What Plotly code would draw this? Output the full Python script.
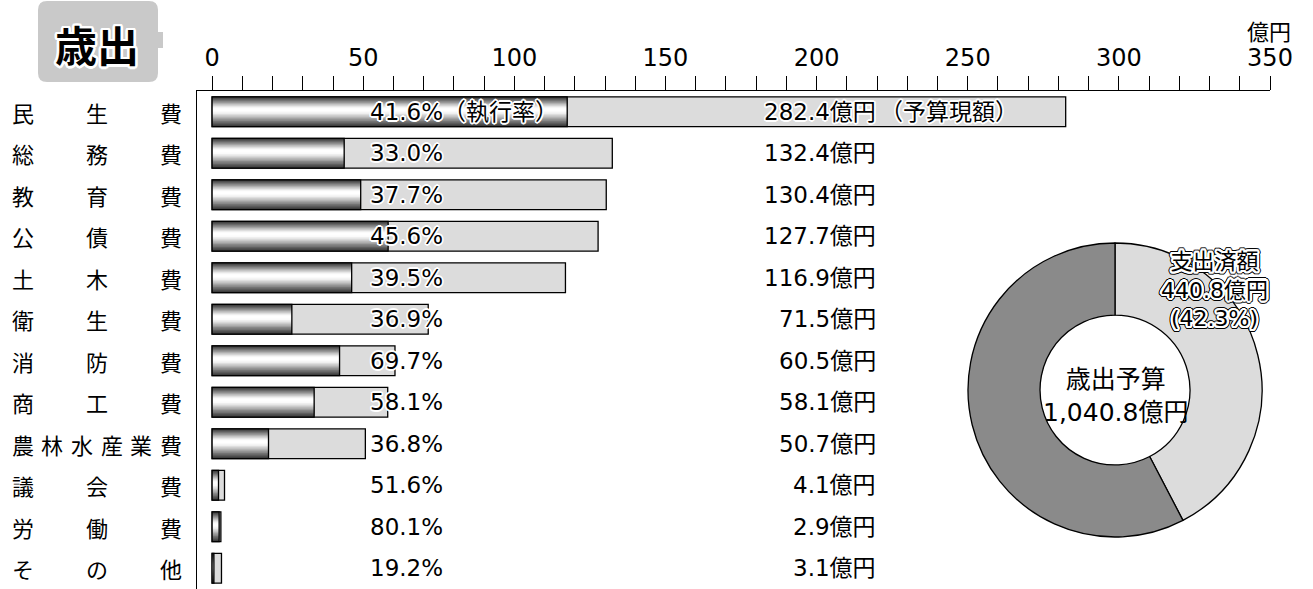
import math
import plotly.graph_objects as go

# ---------------- data ----------------
categories = ["民生費", "総務費", "教育費", "公債費", "土木費", "衛生費",
              "消防費", "商工費", "農林水産業費", "議会費", "労働費", "その他"]
budget = [282.4, 132.4, 130.4, 127.7, 116.9, 71.5, 60.5, 58.1, 50.7, 4.1, 2.9, 3.1]
exec_rate = [41.6, 33.0, 37.7, 45.6, 39.5, 36.9, 69.7, 58.1, 36.8, 51.6, 80.1, 19.2]
x_ticks = list(range(0, 351, 10))
x_tick_labels = [str(v) if v % 50 == 0 else "" for v in x_ticks]
pie_labels = ["支出済額", "未支出額"]
pie_values = [440.8, 600.0]
total_budget_text = "1,040.8"
spent_text = "440.8"
spent_pct_text = "42.3"

# ---------------- helpers ----------------
W, H = 1313, 589


def px(x):
    return x / W


def py(y):
    return 1 - y / H


FONT = "DejaVu Sans, Noto Sans CJK JP, sans-serif"
JFONT = "Noto Sans CJK JP, sans-serif"


def shadow_ring(radius, color, n=12):
    return ", ".join(f"{radius * math.cos(2 * math.pi * k / n):.2f}px "
                     f"{radius * math.sin(2 * math.pi * k / n):.2f}px 0 {color}"
                     for k in range(n))


HALO = shadow_ring(1, "#fff", 8) + ", " + shadow_ring(1.6, "#fff", 12)
TITLE_HALO = shadow_ring(1.5, "#fff", 12) + ", " + shadow_ring(2.5, "#fff", 16)
PIE_HALO = (shadow_ring(1.2, "#fff", 8) + ", " + shadow_ring(2.2, "#fff", 16) + ", "
            + shadow_ring(3.2, "#000", 20))

annotations = []


def add_text(text, x, y, xref, yref, size, family=FONT, xanchor="center",
             shadow=None, color="black"):
    f = dict(family=family, size=size, color=color)
    if shadow:
        f["shadow"] = shadow
    annotations.append(dict(x=x, y=y, xref=xref, yref=yref, text=text,
                            showarrow=False, xanchor=xanchor, yanchor="middle", font=f))


rows = list(range(len(categories)))
executed = [b * r / 100 for b, r in zip(budget, exec_rate)]

fig = go.Figure()
BAR_W = 0.72

# budget bars
fig.add_trace(go.Bar(x=budget, y=rows, orientation="h", width=BAR_W,
                     marker=dict(color="#dcdcdc", line=dict(color="black", width=1.3)),
                     hoverinfo="skip"))

# executed bars with a metallic gradient made of layered bars
grad = ["#3a3a3a", "#4c4c4c", "#5f5f5f", "#737373", "#888888", "#9e9e9e",
        "#b4b4b4", "#cacaca", "#dedede", "#efefef", "#fbfbfb", "#ffffff"]
n = len(grad)
for k, c in enumerate(grad):
    w = BAR_W * (1 - k / n)
    shift = 0.05 * k / n
    fig.add_trace(go.Bar(x=executed, y=rows, orientation="h", width=w,
                         offset=-w / 2 - shift,
                         marker=dict(color=c, line=dict(width=0)),
                         hoverinfo="skip"))
fig.add_trace(go.Bar(x=executed, y=rows, orientation="h", width=BAR_W,
                     marker=dict(color="rgba(0,0,0,0)", line=dict(color="black", width=1.3)),
                     hoverinfo="skip"))

# donut
fig.add_trace(go.Pie(values=pie_values, labels=pie_labels, hole=0.51, sort=False,
                     direction="clockwise", rotation=0,
                     marker=dict(colors=["#dcdcdc", "#8a8a8a"],
                                 line=dict(color="black", width=1.3)),
                     textinfo="none", hoverinfo="skip",
                     domain=dict(x=[px(968), px(1262)], y=[py(538), py(242)]),
                     showlegend=False))

# percent labels & budget labels
for i, (r, b) in enumerate(zip(exec_rate, budget)):
    t = f"{r:.1f}%" + ("（執行率）" if i == 0 else "")
    add_text(t, 51.6, i, "x", "y", 23, xanchor="left", shadow=HALO)
    add_text(f"{b:.1f}億円", 220.3, i, "x", "y", 23, xanchor="right", shadow=HALO)
add_text("（予算現額）", 220.3, 0, "x", "y", 23, xanchor="left", shadow=HALO)

# justified category labels
for i, cat in enumerate(categories):
    m = len(cat)
    for j, ch in enumerate(cat):
        cx = 22.5 + (171 - 22.5) * j / (m - 1)
        add_text(ch, px(cx), i, "paper", "y", 22, family=JFONT)

# unit label
add_text("億円", px(1293), py(30), "paper", "paper", 22, family=JFONT, xanchor="right")

# title
add_text("<b>歳出</b>", px(97), py(43), "paper", "paper", 42, family=JFONT, shadow=TITLE_HALO)

# donut labels
add_text(f"{pie_labels[0]}<br>{spent_text}億円<br>({spent_pct_text}%)",
         px(1214), py(290), "paper", "paper", 22, shadow=PIE_HALO)
add_text(f"歳出予算<br>{total_budget_text}億円", px(1115), py(396), "paper", "paper", 25)


def rrect(x0, y0, x1, y1, r):
    return (f"M {px(x0 + r)},{py(y0)} L {px(x1 - r)},{py(y0)} "
            f"Q {px(x1)},{py(y0)} {px(x1)},{py(y0 + r)} L {px(x1)},{py(y1 - r)} "
            f"Q {px(x1)},{py(y1)} {px(x1 - r)},{py(y1)} L {px(x0 + r)},{py(y1)} "
            f"Q {px(x0)},{py(y1)} {px(x0)},{py(y1 - r)} L {px(x0)},{py(y0 + r)} "
            f"Q {px(x0)},{py(y0)} {px(x0 + r)},{py(y0)} Z")


shapes = [
    dict(type="path", xref="paper", yref="paper", path=rrect(38, 1, 158, 82, 9),
         fillcolor="#c9c9c9", line=dict(width=0), layer="below"),
    dict(type="rect", xref="paper", yref="paper", x0=px(150), x1=px(163), y0=py(48), y1=py(32),
         fillcolor="#c9c9c9", line=dict(width=0), layer="below"),
]

fig.update_layout(
    width=W, height=H, autosize=False,
    margin=dict(l=0, r=0, t=0, b=0, pad=0, autoexpand=False),
    paper_bgcolor="white", plot_bgcolor="white",
    barmode="overlay", showlegend=False,
    xaxis=dict(domain=[px(197), px(1270)], range=[-5, 350], side="top",
               tickvals=x_ticks, ticktext=x_tick_labels, ticks="outside", ticklen=14,
               tickwidth=1.2, tickcolor="black", showline=True, linecolor="black",
               linewidth=1.3, showgrid=False, zeroline=False, automargin=False,
               tickfont=dict(family=FONT, size=24, color="black"), fixedrange=True),
    yaxis=dict(domain=[0, py(91)], range=[11.5, -0.5], showline=True, linecolor="black",
               linewidth=1.3, showticklabels=False, ticks="", showgrid=False,
               zeroline=False, fixedrange=True, automargin=False),
    annotations=annotations, shapes=shapes,
)

fig.write_html("out.html", config={"displayModeBar": False, "responsive": False},
               post_script="document.body.style.margin='0';document.body.style.overflow='hidden';")
